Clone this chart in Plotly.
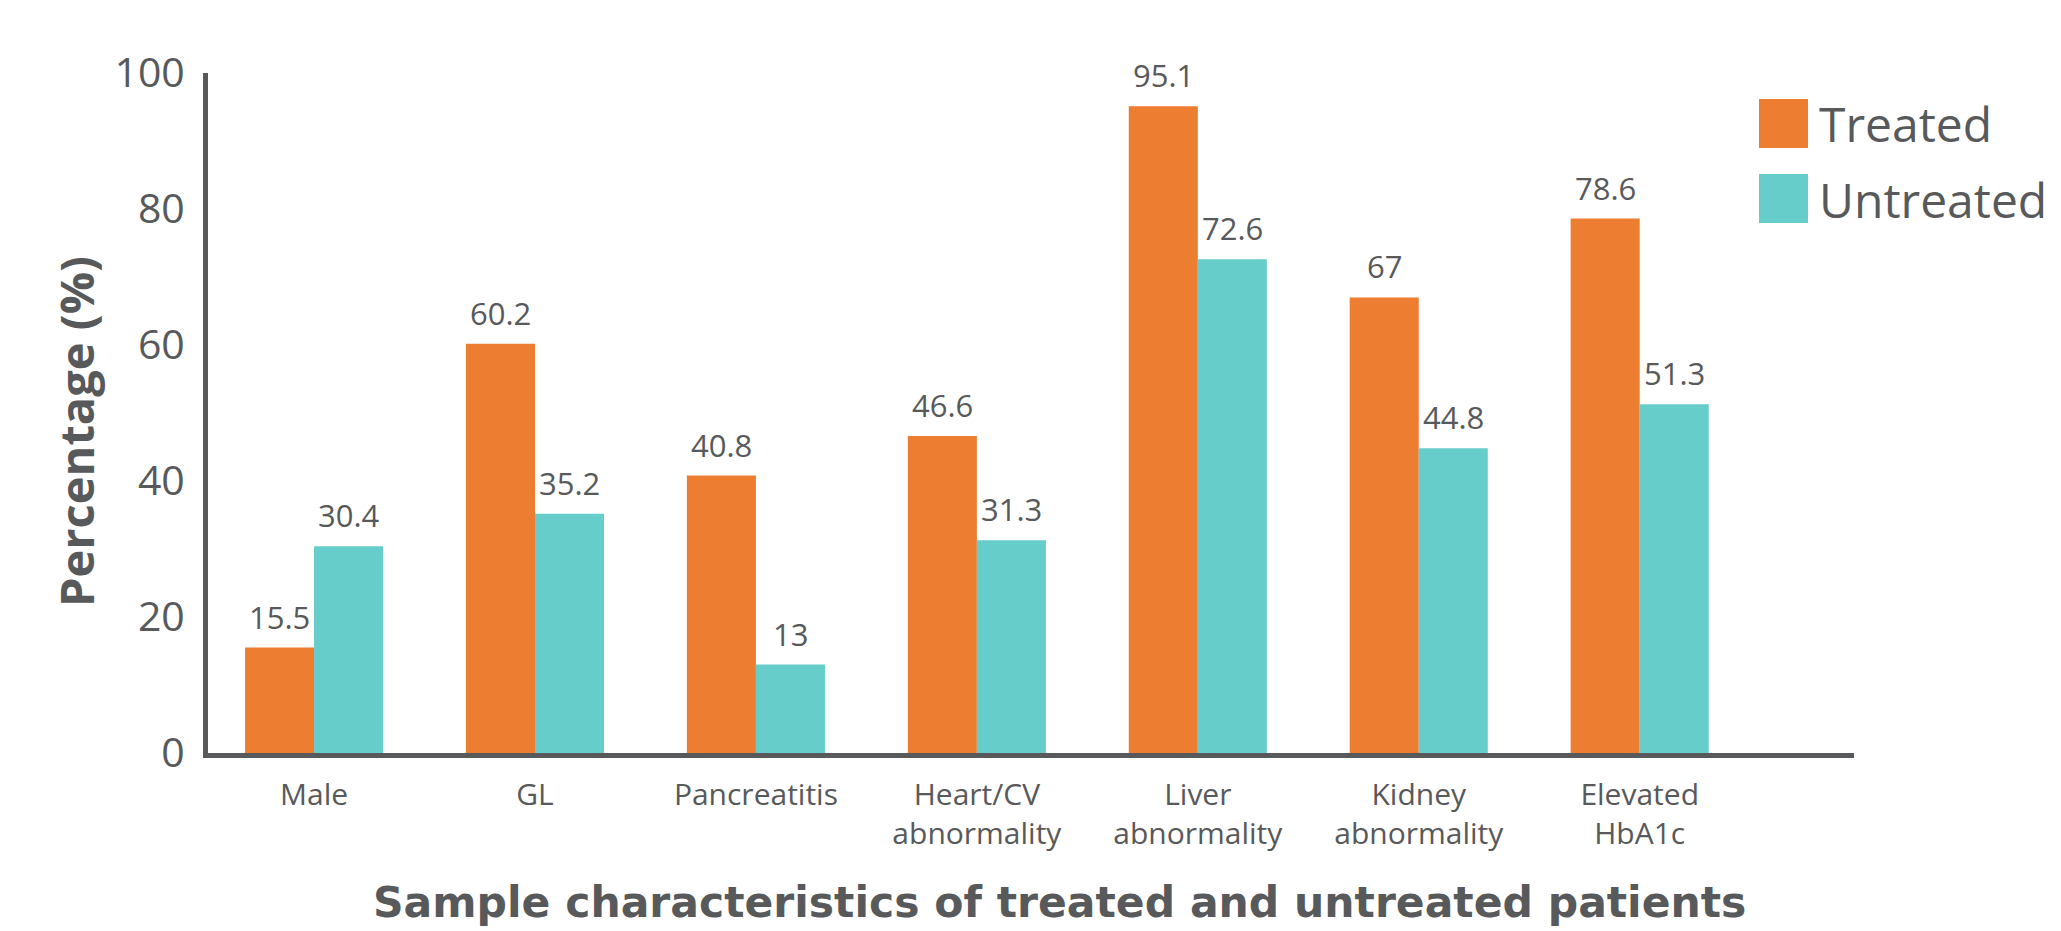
import plotly.graph_objects as go

# Categories and series values (percentages)
categories = ["Male", "GL", "Pancreatitis", "Heart/CV<br>abnormality",
              "Liver<br>abnormality", "Kidney<br>abnormality", "Elevated<br>HbA1c"]
treated = [15.5, 60.2, 40.8, 46.6, 95.1, 67, 78.6]
untreated = [30.4, 35.2, 13, 31.3, 72.6, 44.8, 51.3]
y_ticks = [0, 20, 40, 60, 80, 100]

ORANGE = "#ED7D31"
TEAL = "#66CDCB"
GREY = "#58595B"
FONT = "Open Sans"
TITLE_FONT = "DejaVu Sans"

W, H = 2061, 931
L, R, T, B = 208, 207, 73, 178
BAR_PX = 69  # pixel width of one bar, used to place value labels over each bar

fig = go.Figure()
fig.add_trace(go.Bar(name="Treated", x=categories, y=treated,
                     marker=dict(color=ORANGE, line=dict(width=0))))
fig.add_trace(go.Bar(name="Untreated", x=categories, y=untreated,
                     marker=dict(color=TEAL, line=dict(width=0))))

annotations = []
# value labels above each bar
for series, shift in ((treated, -BAR_PX / 2), (untreated, BAR_PX / 2)):
    for cat, val in zip(categories, series):
        annotations.append(dict(
            x=cat, y=val, xref="x", yref="y", text=f"{val:g}",
            showarrow=False, xanchor="center", yanchor="bottom",
            xshift=shift, yshift=8,
            font=dict(family=FONT, size=31, color=GREY)))

plot_w = W - L - R
plot_h = H - T - B

def px_x(px):
    return (px - L) / plot_w

def px_y(py):
    return (H - B - py) / plot_h

# axis titles
annotations.append(dict(
    x=px_x(76), y=px_y(432), xref="paper", yref="paper",
    text="<b>Percentage (%)</b>", textangle=-90, showarrow=False,
    xanchor="center", yanchor="middle",
    font=dict(family=FONT, size=47, color=GREY)))
annotations.append(dict(
    x=px_x(1059), y=px_y(902), xref="paper", yref="paper",
    text="<b>Sample characteristics of treated and untreated patients</b>",
    showarrow=False, xanchor="center", yanchor="middle",
    font=dict(family=TITLE_FONT, size=42.5, color=GREY)))

# legend (large square swatches)
shapes = []
for name, color, top in (("Treated", ORANGE, 99), ("Untreated", TEAL, 174)):
    shapes.append(dict(type="rect", xref="paper", yref="paper",
                       x0=px_x(1759), x1=px_x(1808),
                       y0=px_y(top + 49), y1=px_y(top),
                       fillcolor=color, line=dict(width=0)))
    annotations.append(dict(
        x=px_x(1817), y=px_y(top + 25), xref="paper", yref="paper",
        text=name, showarrow=False, xanchor="left", yanchor="middle",
        font=dict(family=FONT, size=48, color=GREY)))

fig.update_layout(
    width=W, height=H,
    margin=dict(l=L, r=R, t=T, b=B, pad=0),
    paper_bgcolor="white", plot_bgcolor="white",
    barmode="group", bargap=0.375, bargroupgap=0,
    showlegend=False,
    font=dict(family=FONT, color=GREY),
    annotations=annotations, shapes=shapes,
)
fig.update_xaxes(
    type="category", range=[-0.48, 6.97],
    showline=True, linecolor=GREY, linewidth=5,
    showgrid=False, zeroline=False, ticks="",
    tickfont=dict(family=FONT, size=30, color=GREY),
    ticklabelstandoff=11,
)
fig.update_yaxes(
    range=[0, 100], tickvals=y_ticks,
    showline=True, linecolor=GREY, linewidth=5,
    showgrid=False, zeroline=False, ticks="",
    tickfont=dict(family=FONT, size=41, color=GREY),
    ticklabelstandoff=10,
)

fig.write_html("out.html")
